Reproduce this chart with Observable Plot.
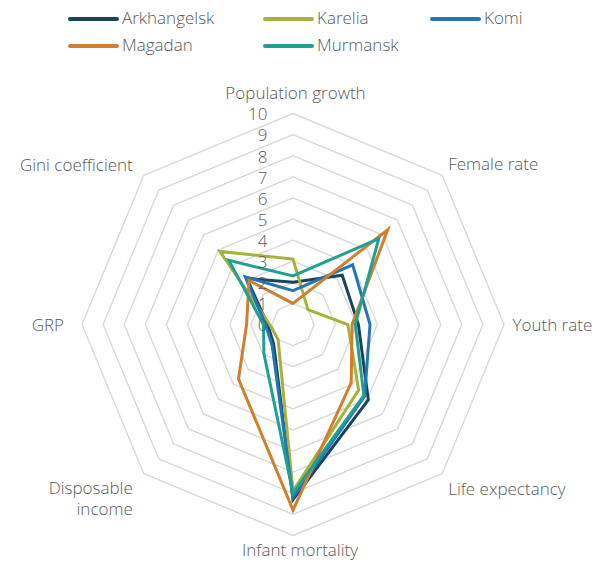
<!DOCTYPE html>
<html><head><meta charset="utf-8">
<script src="https://cdn.jsdelivr.net/npm/d3@7"></script>
<script src="https://cdn.jsdelivr.net/npm/@observablehq/plot@0.6"></script>
<style>
body{margin:0;background:#fff;font-family:"Open Sans",sans-serif;}
#legend{position:relative;width:605px;height:62px;}
.sw{position:absolute;width:51px;height:4px;border-radius:2px;}
.lt{position:absolute;font-size:17px;font-weight:300;color:#595959;line-height:20px;white-space:nowrap;}
#chart svg{display:block;}
</style></head>
<body><div id="legend"></div><div id="chart"></div>
<script>
// ---- data ----
const axes = ["Population growth","Female rate","Youth rate","Life expectancy","Infant mortality","Disposable income","GRP","Gini coefficient"];
const regions = ["Arkhangelsk","Karelia","Komi","Magadan","Murmansk"];
const regionColors = ["#17445e","#a7b23a","#2277b2","#d17f2c","#1fa093"];
const arkhangelsk = [2.0, 3.3, 3.1, 5.05, 8.3, 1.3, 1.2, 3.1];
const karelia     = [3.1, 1.0, 2.6, 4.4, 7.9, 1.0, 1.1, 4.9];
const komi        = [1.6, 4.0, 3.65, 4.8, 8.2, 1.4, 1.3, 3.2];
const magadan     = [1.0, 6.35, 2.8, 3.9, 8.8, 3.65, 2.2, 2.95];
const murmansk    = [2.3, 5.75, 2.95, 4.75, 8.0, 1.95, 1.4, 4.3];
const tickValues = [0,1,2,3,4,5,6,7,8,9,10];

const seriesValues = [arkhangelsk, karelia, komi, magadan, murmansk];

// ---- legend ----
const legend = document.getElementById("legend");
const legendPos = [[68,19],[263,19],[430,19],[68,46],[263,46]];
regions.forEach((r,k)=>{
  const [lx,ly] = legendPos[k];
  const s = document.createElement("div");
  s.className="sw"; s.style.left=lx+"px"; s.style.top=(ly-2)+"px"; s.style.background=regionColors[k];
  legend.appendChild(s);
  const t = document.createElement("div");
  t.className="lt"; t.textContent=r; t.style.left=(lx+54)+"px"; t.style.top=(ly-11)+"px";
  legend.appendChild(t);
});

// ---- geometry ----
const W = 605, H = 504, K = 21.1, CX = 292.5, CY = 262;
const xdom = [-CX/K, (W-CX)/K], ydom = [-(H-CY)/K, CY/K];
const ang = i => i*Math.PI/4;
const px = (r,i) => r*Math.sin(ang(i));
const py = (r,i) => r*Math.cos(ang(i));

const grid = [];
for (let l=1; l<=10; l++) axes.forEach((a,i)=>grid.push({l,i}));

const rows = [];
regions.forEach((r,k)=>seriesValues[k].forEach((v,i)=>rows.push({region:r,i,v})));

// label offsets in pixels from outer vertex
const labelLayout = [
  {anchor:"middle", dx:2.5, dy:-21},
  {anchor:"start", dx:6, dy:-12},
  {anchor:"start", dx:8.5, dy:0},
  {anchor:"start", dx:6, dy:14},
  {anchor:"middle", dx:7, dy:14},
  {anchor:"end", dx:-11, dy:24},
  {anchor:"end", dx:-18, dy:0},
  {anchor:"end", dx:-11, dy:-11}
];
const labels = axes.map((a,i)=>({
  text: a === "Disposable income" ? "Disposable\nincome" : a,
  x: px(10,i) + labelLayout[i].dx/K,
  y: py(10,i) - labelLayout[i].dy/K,
  anchor: labelLayout[i].anchor
}));
const txt = {fill:"#595959", fontSize:17, fontWeight:300, lineHeight:1.26};

const chart = Plot.plot({
  width: W, height: H, margin: 0,
  x: {domain: xdom, axis: null},
  y: {domain: ydom, axis: null},
  color: {domain: regions, range: regionColors},
  style: {fontFamily: "'Open Sans', sans-serif", fontSize: "17px", background: "#fff", overflow: "visible"},
  marks: [
    Plot.line(grid, {x: d=>px(d.l,d.i), y: d=>py(d.l,d.i), z: "l", curve: "linear-closed", stroke: "#d9d9d9", strokeWidth: 1.4}),
    Plot.line(rows, {x: d=>px(d.v,d.i), y: d=>py(d.v,d.i), z: "region", stroke: "region", curve: "linear-closed", strokeWidth: 3, strokeLinejoin: "miter", strokeMiterlimit: 10}),
    Plot.text(tickValues, {x: d=>0, y: d=>d, text: d=>String(d), textAnchor: "end", dx: -25.5, ...txt}),
    ...["start","middle","end"].map(an => Plot.text(labels.filter(d=>d.anchor===an), {x:"x", y:"y", text:"text", textAnchor: an, ...txt}))
  ]
});
document.getElementById("chart").appendChild(chart);
</script>
</body></html>
